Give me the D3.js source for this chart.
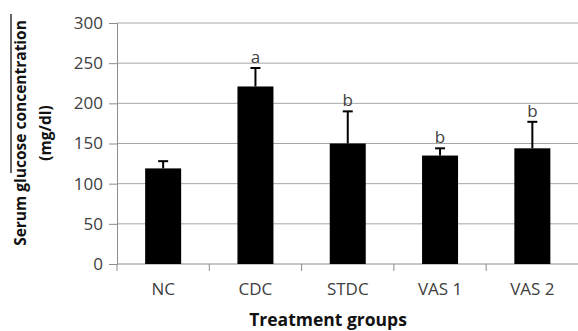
<!DOCTYPE html>
<html>
<head>
<meta charset="utf-8">
<script src="https://cdn.jsdelivr.net/npm/d3@7"></script>
<style>
  body { margin: 0; background: #fff; }
  svg { display: block; font-family: "Open Sans", sans-serif; }
</style>
</head>
<body>
<div id="chart"></div>
<script>
// values
const groups = ["NC", "CDC", "STDC", "VAS 1", "VAS 2"];
const means = [119, 221, 150, 135, 144];
const errTops = [128, 244, 190, 144, 177];
const letters = ["", "a", "b", "b", "b"];
const yTicks = [0, 50, 100, 150, 200, 250, 300];

const width = 578, height = 331;
const plotLeft = 117, plotRight = 578.5, plotTop = 23, plotBottom = 264;

const svg = d3.select("#chart").append("svg")
  .attr("width", width).attr("height", height);

const x = d3.scaleBand().domain(groups).range([plotLeft, plotRight])
  .paddingInner(0.61).paddingOuter(0.305);
const y = d3.scaleLinear().domain([0, 300]).range([plotBottom, plotTop]);

// gridlines
svg.append("g").selectAll("line").data(yTicks.filter(d => d > 0)).enter()
  .append("line")
  .attr("x1", plotLeft).attr("x2", plotRight)
  .attr("y1", d => y(d)).attr("y2", d => y(d))
  .attr("stroke", "#a6a6a6").attr("stroke-width", 1);

// y axis
const yAxis = svg.append("g").attr("transform", `translate(${plotLeft},0)`)
  .call(d3.axisLeft(y).tickValues(yTicks).tickSize(8).tickPadding(6));
yAxis.attr("font-family", null).attr("font-size", null);
yAxis.select(".domain").attr("stroke", "#8c8c8c");
yAxis.selectAll(".tick line").attr("stroke", "#8c8c8c");
yAxis.selectAll("text").style("font-size", "17px").attr("fill", "#404040");

// x axis with ticks between categories
const xAxis = svg.append("g").attr("transform", `translate(0,${plotBottom})`);
xAxis.append("line").attr("x1", plotLeft).attr("x2", plotRight)
  .attr("stroke", "#8c8c8c");
const bounds = groups.map(g => x(g) - x.step() * 0.305).concat([plotRight]);
xAxis.selectAll(".tk").data(bounds).enter().append("line")
  .attr("x1", d => d).attr("x2", d => d).attr("y1", 0).attr("y2", 7)
  .attr("stroke", "#8c8c8c");
xAxis.selectAll("text").data(groups).enter().append("text")
  .attr("x", d => x(d) + x.bandwidth() / 2).attr("y", 31)
  .attr("text-anchor", "middle").style("font-size", "17px").attr("fill", "#404040")
  .text(d => d);

// bars
svg.append("g").selectAll("rect").data(groups).enter().append("rect")
  .attr("x", d => x(d)).attr("width", x.bandwidth())
  .attr("y", (d, i) => y(means[i]))
  .attr("height", (d, i) => y(0) - y(means[i]))
  .attr("fill", "#000");

// upper error bars
const err = svg.append("g").attr("stroke", "#000").attr("stroke-width", 2);
groups.forEach((g, i) => {
  const cx = x(g) + x.bandwidth() / 2;
  err.append("line").attr("x1", cx).attr("x2", cx)
    .attr("y1", y(means[i])).attr("y2", y(errTops[i]));
  err.append("line").attr("x1", cx - 5).attr("x2", cx + 5)
    .attr("y1", y(errTops[i])).attr("y2", y(errTops[i]));
});

// significance letters
svg.append("g").selectAll("text").data(groups).enter().append("text")
  .attr("x", d => x(d) + x.bandwidth() / 2)
  .attr("y", (d, i) => y(errTops[i]) - 5)
  .attr("text-anchor", "middle").style("font-size", "17px").attr("fill", "#404040")
  .text((d, i) => letters[i]);

// axis titles
const yt = svg.append("text")
  .attr("transform", "translate(26,133) rotate(-90)")
  .attr("text-anchor", "middle").attr("font-weight", "bold")
  .style("font-size", "15.5px").attr("fill", "#111");
yt.append("tspan").attr("x", 0).attr("y", 0).text("Serum glucose concentration");
yt.append("tspan").attr("x", 0).attr("y", 25).text("(mg/dl)");
// stray overline on the left from the original scan
svg.append("line").attr("x1", 11).attr("x2", 11).attr("y1", 14).attr("y2", 173)
  .attr("stroke", "#000").attr("stroke-width", 1.2);

svg.append("text")
  .attr("x", 328).attr("y", 326)
  .attr("text-anchor", "middle").attr("font-weight", "bold")
  .style("font-size", "17.5px").attr("fill", "#111")
  .text("Treatment groups");
</script>
</body>
</html>
